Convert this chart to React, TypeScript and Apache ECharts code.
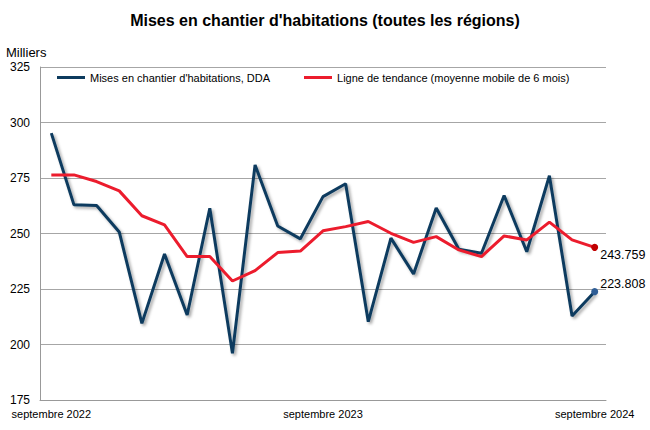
import React, { useEffect, useRef } from "react";
import * as echarts from "echarts";

const months = [
  "septembre 2022", "octobre 2022", "novembre 2022", "décembre 2022", "janvier 2023", "février 2023",
  "mars 2023", "avril 2023", "mai 2023", "juin 2023", "juillet 2023", "août 2023",
  "septembre 2023", "octobre 2023", "novembre 2023", "décembre 2023", "janvier 2024", "février 2024",
  "mars 2024", "avril 2024", "mai 2024", "juin 2024", "juillet 2024", "août 2024", "septembre 2024",
];

const starts = [
  295.2, 262.9, 262.6, 250.7, 209.5, 240.8, 213.3, 261.4, 196.0, 280.9, 253.4, 247.6,
  266.6, 272.4, 210.3, 247.9, 231.8, 261.5, 242.9, 241.1, 267.1, 241.8, 276.0, 212.8, 223.808,
];

const trend = [
  276.4, 276.4, 273.4, 269.2, 258.0, 253.9, 239.6, 239.6, 228.6, 233.3, 241.4, 242.1,
  251.2, 253.1, 255.4, 250.1, 246.0, 248.6, 242.6, 239.6, 248.9, 247.1, 255.1, 247.1, 243.759,
];

const yTicks = { min: 175, max: 325, step: 25 };

const FONT = "'Liberation Sans', Arial, sans-serif";
const DARK = "#0d3b5e";
const RED = "#ec1c2d";

export default function App() {
  const ref = useRef<HTMLDivElement>(null);
  useEffect(() => {
    document.body.style.margin = "0";
    if (!ref.current) return;
    const chart = echarts.init(ref.current, null, { renderer: "svg" });
    const last = months.length - 1;
    const mk = (vals: number[], dotColor: string, offset: number[]) =>
      vals.map((v, i) =>
        i === last
          ? {
              value: v,
              symbol: "circle",
              symbolSize: 7,
              itemStyle: { color: dotColor },
              label: {
                show: true,
                position: "right",
                distance: 2,
                offset,
                formatter: String(v),
                color: "#000",
                fontFamily: FONT,
                fontSize: 12.5,
              },
            }
          : { value: v, symbol: "none" }
      );
    chart.setOption({
      animation: false,
      backgroundColor: "#fff",
      title: {
        text: "Mises en chantier d'habitations (toutes les régions)",
        left: "center",
        top: 7,
        textStyle: { fontFamily: FONT, fontWeight: "bold", fontSize: 16, color: "#000" },
      },
      grid: { left: 40, right: 44, top: 67, bottom: 30, containLabel: false, outerBoundsMode: "none" },
      legend: {
        top: 67,
        left: 52,
        itemGap: 34,
        itemWidth: 28,
        itemHeight: 3,
        icon: "rect",
        textStyle: { fontFamily: FONT, fontSize: 11, color: "#000" },
        data: [
          { name: "Mises en chantier d'habitations, DDA", itemStyle: { color: DARK } },
          { name: "Ligne de tendance (moyenne mobile de 6 mois)", itemStyle: { color: RED } },
        ],
      },
      graphic: [
        {
          type: "text",
          left: 6,
          top: 46,
          style: { text: "Milliers", fontFamily: FONT, fontSize: 13, fill: "#000" },
        },
      ],
      xAxis: {
        type: "category",
        data: months,
        boundaryGap: true,
        axisLine: { lineStyle: { color: "#999", width: 1 } },
        axisTick: { show: false },
        axisLabel: {
          interval: 11,
          fontFamily: FONT,
          fontSize: 11,
          color: "#000",
          margin: 8,
        },
      },
      yAxis: {
        type: "value",
        min: yTicks.min,
        max: yTicks.max,
        interval: yTicks.step,
        axisLine: { show: true, lineStyle: { color: "#999", width: 1 } },
        axisTick: { show: false },
        splitLine: { lineStyle: { color: "#a6a6a6", width: 1 } },
        axisLabel: { fontFamily: FONT, fontSize: 12, color: "#000", margin: 10 },
      },
      series: [
        {
          name: "Mises en chantier d'habitations, DDA",
          type: "line",
          data: mk(starts, "#2e5d95", [0, -8]),
          showSymbol: true,
          color: DARK,
          lineStyle: {
            color: DARK,
            width: 3,
            shadowColor: "rgba(0,0,0,0.35)",
            shadowBlur: 3,
            shadowOffsetX: 2,
            shadowOffsetY: 2,
          },
          z: 2,
        },
        {
          name: "Ligne de tendance (moyenne mobile de 6 mois)",
          type: "line",
          data: mk(trend, "#c00000", [0, 8]),
          showSymbol: true,
          color: RED,
          lineStyle: { color: RED, width: 3 },
          z: 3,
        },
      ],
    });
    return () => chart.dispose();
  }, []);
  return <div ref={ref} style={{ width: 650, height: 430 }} />;
}
